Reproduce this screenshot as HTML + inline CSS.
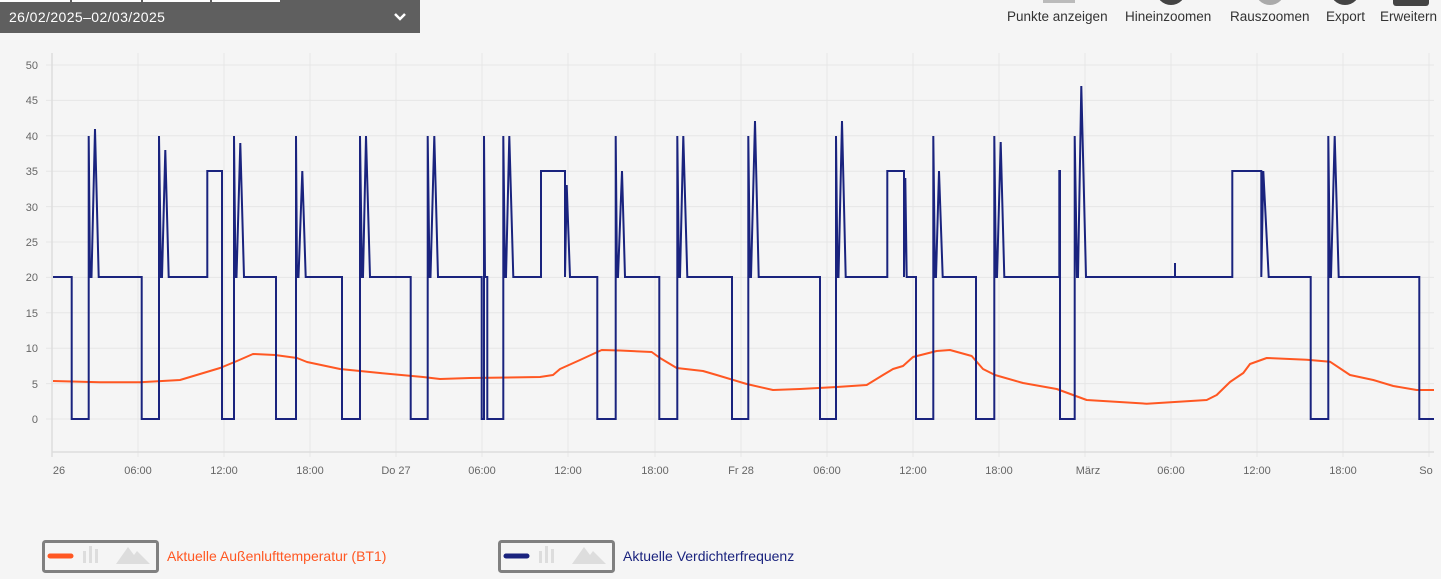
<!DOCTYPE html>
<html><head><meta charset="utf-8"><style>
html,body{margin:0;padding:0;background:#f5f5f5;width:1441px;height:579px;overflow:hidden;font-family:"Liberation Sans",sans-serif;}
</style></head><body>
<svg width="1441" height="579" xmlns="http://www.w3.org/2000/svg" style="position:absolute;left:0;top:0">
<rect x="0" y="0" width="1441" height="579" fill="#f5f5f5"/>
<rect x="0" y="0" width="420" height="33" fill="#5f5f5f"/>
<rect x="0" y="0" width="280" height="2" fill="#fff"/>
<rect x="70" y="0" width="2" height="3" fill="#5f5f5f"/>
<rect x="141" y="0" width="2" height="3" fill="#5f5f5f"/>
<rect x="210" y="0" width="2" height="3" fill="#5f5f5f"/>
<text x="9" y="22" font-size="14" letter-spacing="0.4" fill="#fff">26/02/2025–02/03/2025</text>
<path d="M395 14 L400 19 L405 14" stroke="#fff" stroke-width="2.5" fill="none"/>
<rect x="1043" y="0" width="32" height="3" fill="#bbb"/>
<circle cx="1171" cy="-10" r="15" fill="#444"/>
<circle cx="1270" cy="-10" r="15" fill="#aaa"/>
<circle cx="1345" cy="-10" r="15" fill="#444"/>
<rect x="1393" y="-10" width="36" height="16" rx="3" fill="#444"/>
<g font-size="13.5" fill="#333">
<text x="1007" y="21">Punkte anzeigen</text>
<text x="1125" y="21">Hineinzoomen</text>
<text x="1230" y="21">Rauszoomen</text>
<text x="1326" y="21">Export</text>
<text x="1380" y="21">Erweitern</text>
</g>
<g stroke="#e6e6e6" stroke-width="1">
<line x1="46" y1="65" x2="1434" y2="65"/><line x1="46" y1="100.4" x2="1434" y2="100.4"/>
<line x1="46" y1="135.8" x2="1434" y2="135.8"/><line x1="46" y1="171.2" x2="1434" y2="171.2"/>
<line x1="46" y1="206.6" x2="1434" y2="206.6"/><line x1="46" y1="242" x2="1434" y2="242"/>
<line x1="46" y1="277.4" x2="1434" y2="277.4"/><line x1="46" y1="312.8" x2="1434" y2="312.8"/>
<line x1="46" y1="348.2" x2="1434" y2="348.2"/><line x1="46" y1="383.6" x2="1434" y2="383.6"/>
<line x1="46" y1="419" x2="1434" y2="419"/>
<line x1="138" y1="53" x2="138" y2="457"/><line x1="224" y1="53" x2="224" y2="457"/>
<line x1="310" y1="53" x2="310" y2="457"/><line x1="396" y1="53" x2="396" y2="457"/>
<line x1="482" y1="53" x2="482" y2="457"/><line x1="568" y1="53" x2="568" y2="457"/>
<line x1="655" y1="53" x2="655" y2="457"/><line x1="741" y1="53" x2="741" y2="457"/>
<line x1="827" y1="53" x2="827" y2="457"/><line x1="913" y1="53" x2="913" y2="457"/>
<line x1="999" y1="53" x2="999" y2="457"/><line x1="1085" y1="53" x2="1085" y2="457"/>
<line x1="1171" y1="53" x2="1171" y2="457"/><line x1="1257" y1="53" x2="1257" y2="457"/>
<line x1="1343" y1="53" x2="1343" y2="457"/><line x1="1429" y1="53" x2="1429" y2="457"/>
</g>
<line x1="52" y1="53" x2="52" y2="457" stroke="#ddd" stroke-width="1.5"/>
<line x1="52" y1="452" x2="1434" y2="452" stroke="#ddd" stroke-width="1.5"/>
<g font-size="11" fill="#666" text-anchor="end">
<text x="38" y="69">50</text><text x="38" y="104">45</text><text x="38" y="140">40</text>
<text x="38" y="175">35</text><text x="38" y="211">30</text><text x="38" y="246">25</text>
<text x="38" y="281">20</text><text x="38" y="317">15</text><text x="38" y="352">10</text>
<text x="38" y="388">5</text><text x="38" y="423">0</text>
</g>
<g font-size="11" fill="#666" text-anchor="middle">
<text x="59" y="474">26</text><text x="138" y="474">06:00</text><text x="224" y="474">12:00</text>
<text x="310" y="474">18:00</text><text x="396" y="474">Do 27</text><text x="482" y="474">06:00</text>
<text x="568" y="474">12:00</text><text x="655" y="474">18:00</text><text x="741" y="474">Fr 28</text>
<text x="827" y="474">06:00</text><text x="913" y="474">12:00</text><text x="999" y="474">18:00</text>
<text x="1088" y="474">März</text><text x="1171" y="474">06:00</text><text x="1257" y="474">12:00</text>
<text x="1343" y="474">18:00</text><text x="1426" y="474">So</text>
</g>
<polyline fill="none" stroke="#ff5722" stroke-width="2" stroke-linejoin="round" points="53,381 100,382.3 140,382.3 180,380 220,368 237,361 253,354 275,355 297,358 307,362 340,369 380,373 423,377 440,379 470,378 540,377 553,375 560,369 580,360 601.7,350 620,350.5 651.7,352 660,358 676.7,368 703,371 716.7,375 746.7,384 773,390 800,389 836.7,387 866.7,385 883,375 893,369 903,366 913,357 936.7,351 950,350 971.7,356 983,369 995,375 1023,383 1056.7,389 1086.7,400 1146.7,403.7 1206.7,400 1216.7,395 1230,382 1243.3,373 1250,364 1266.7,358 1306.7,359.7 1330,361.7 1350,375 1373.3,380 1393.3,386 1416.7,390 1434,390"/>
<polyline fill="none" stroke="#1a237e" stroke-width="2" stroke-linejoin="miter" points="
53,277 71.7,277 71.7,419 88.7,419 88.7,136 90,277 91.5,277 95,129 98.7,277
141.7,277 141.7,419 159,419 159,136 161,277 162,277 165.3,150 168.7,277
207.3,277 207.3,171 222,171 222,419 234,419 234,136 235.5,277 236.5,277 240.3,143 244,277
276,277 276,419 296,419 296,136 297,277 298.5,277 302.3,171 305.7,277
342,277 342,419 360,419 360,136 362,277 363,277 366,136 370,277
410.7,277 410.7,419 427.7,419 427.7,136 429.5,277 430.5,277 434.3,136 438,277
481.7,277 481.7,419 484,419 484,136 485,277 487.3,277 487.3,419 503.3,419 503.3,136 505,277 506,277 509.3,136 513.3,277
541,277 541,171 565,171 565,277 566.7,185 570,277
597.3,277 597.3,419 615.7,419 615.7,136 617,277 618,277 622,171 625,277
659.3,277 659.3,419 677.3,419 677.3,136 679,277 680,277 683.3,136 687.3,277
732,277 732,419 748.3,419 748.3,136 750,277 751,277 755,121 758.7,277
820,277 820,419 836,419 836,136 837.5,277 838.5,277 842,121 845.7,277
887.3,277 887.3,171 904,171 904,277 905.3,178 906.7,277
916,277 916,419 933.3,419 933.3,136 935,277 936,277 939,171 942.7,277
976,277 976,419 994.3,419 994.3,136 996,277 997,277 1000.7,142 1004.3,277
1059.3,277 1059.3,171 1060,171 1060,419 1074.7,419 1074.7,136 1077,277 1078,277 1081.3,86 1086,277
1175,277 1175,263 1175,277
1232.3,277 1232.3,171 1261.3,171 1261.3,277 1263.3,171 1268.7,277
1310.7,277 1310.7,419 1328.3,419 1328.3,136 1330,277 1331,277 1334.7,136 1338.7,277
1419.3,277 1419.3,419 1434,419"/>
<rect x="43.5" y="541.5" width="114" height="30" rx="2" fill="none" stroke="#808080" stroke-width="3"/>
<line x1="50" y1="556" x2="71" y2="556" stroke="#ff5722" stroke-width="5" stroke-linecap="round"/>
<g fill="#ddd"><rect x="83" y="551" width="3" height="12"/><rect x="89" y="546" width="3" height="17"/><rect x="95" y="549" width="3" height="14"/><path d="M116 564 L128 547 L134 555 L137 551 L150 564 Z"/></g>
<text x="167" y="561" font-size="14" fill="#ff5722">Aktuelle Außenlufttemperatur (BT1)</text>
<rect x="499.5" y="541.5" width="114" height="30" rx="2" fill="none" stroke="#808080" stroke-width="3"/>
<line x1="506" y1="556" x2="527" y2="556" stroke="#1a237e" stroke-width="5" stroke-linecap="round"/>
<g fill="#ddd"><rect x="539" y="551" width="3" height="12"/><rect x="545" y="546" width="3" height="17"/><rect x="551" y="549" width="3" height="14"/><path d="M572 564 L584 547 L590 555 L593 551 L606 564 Z"/></g>
<text x="623" y="561" font-size="14" fill="#1a237e">Aktuelle Verdichterfrequenz</text>
</svg>
</body></html>
